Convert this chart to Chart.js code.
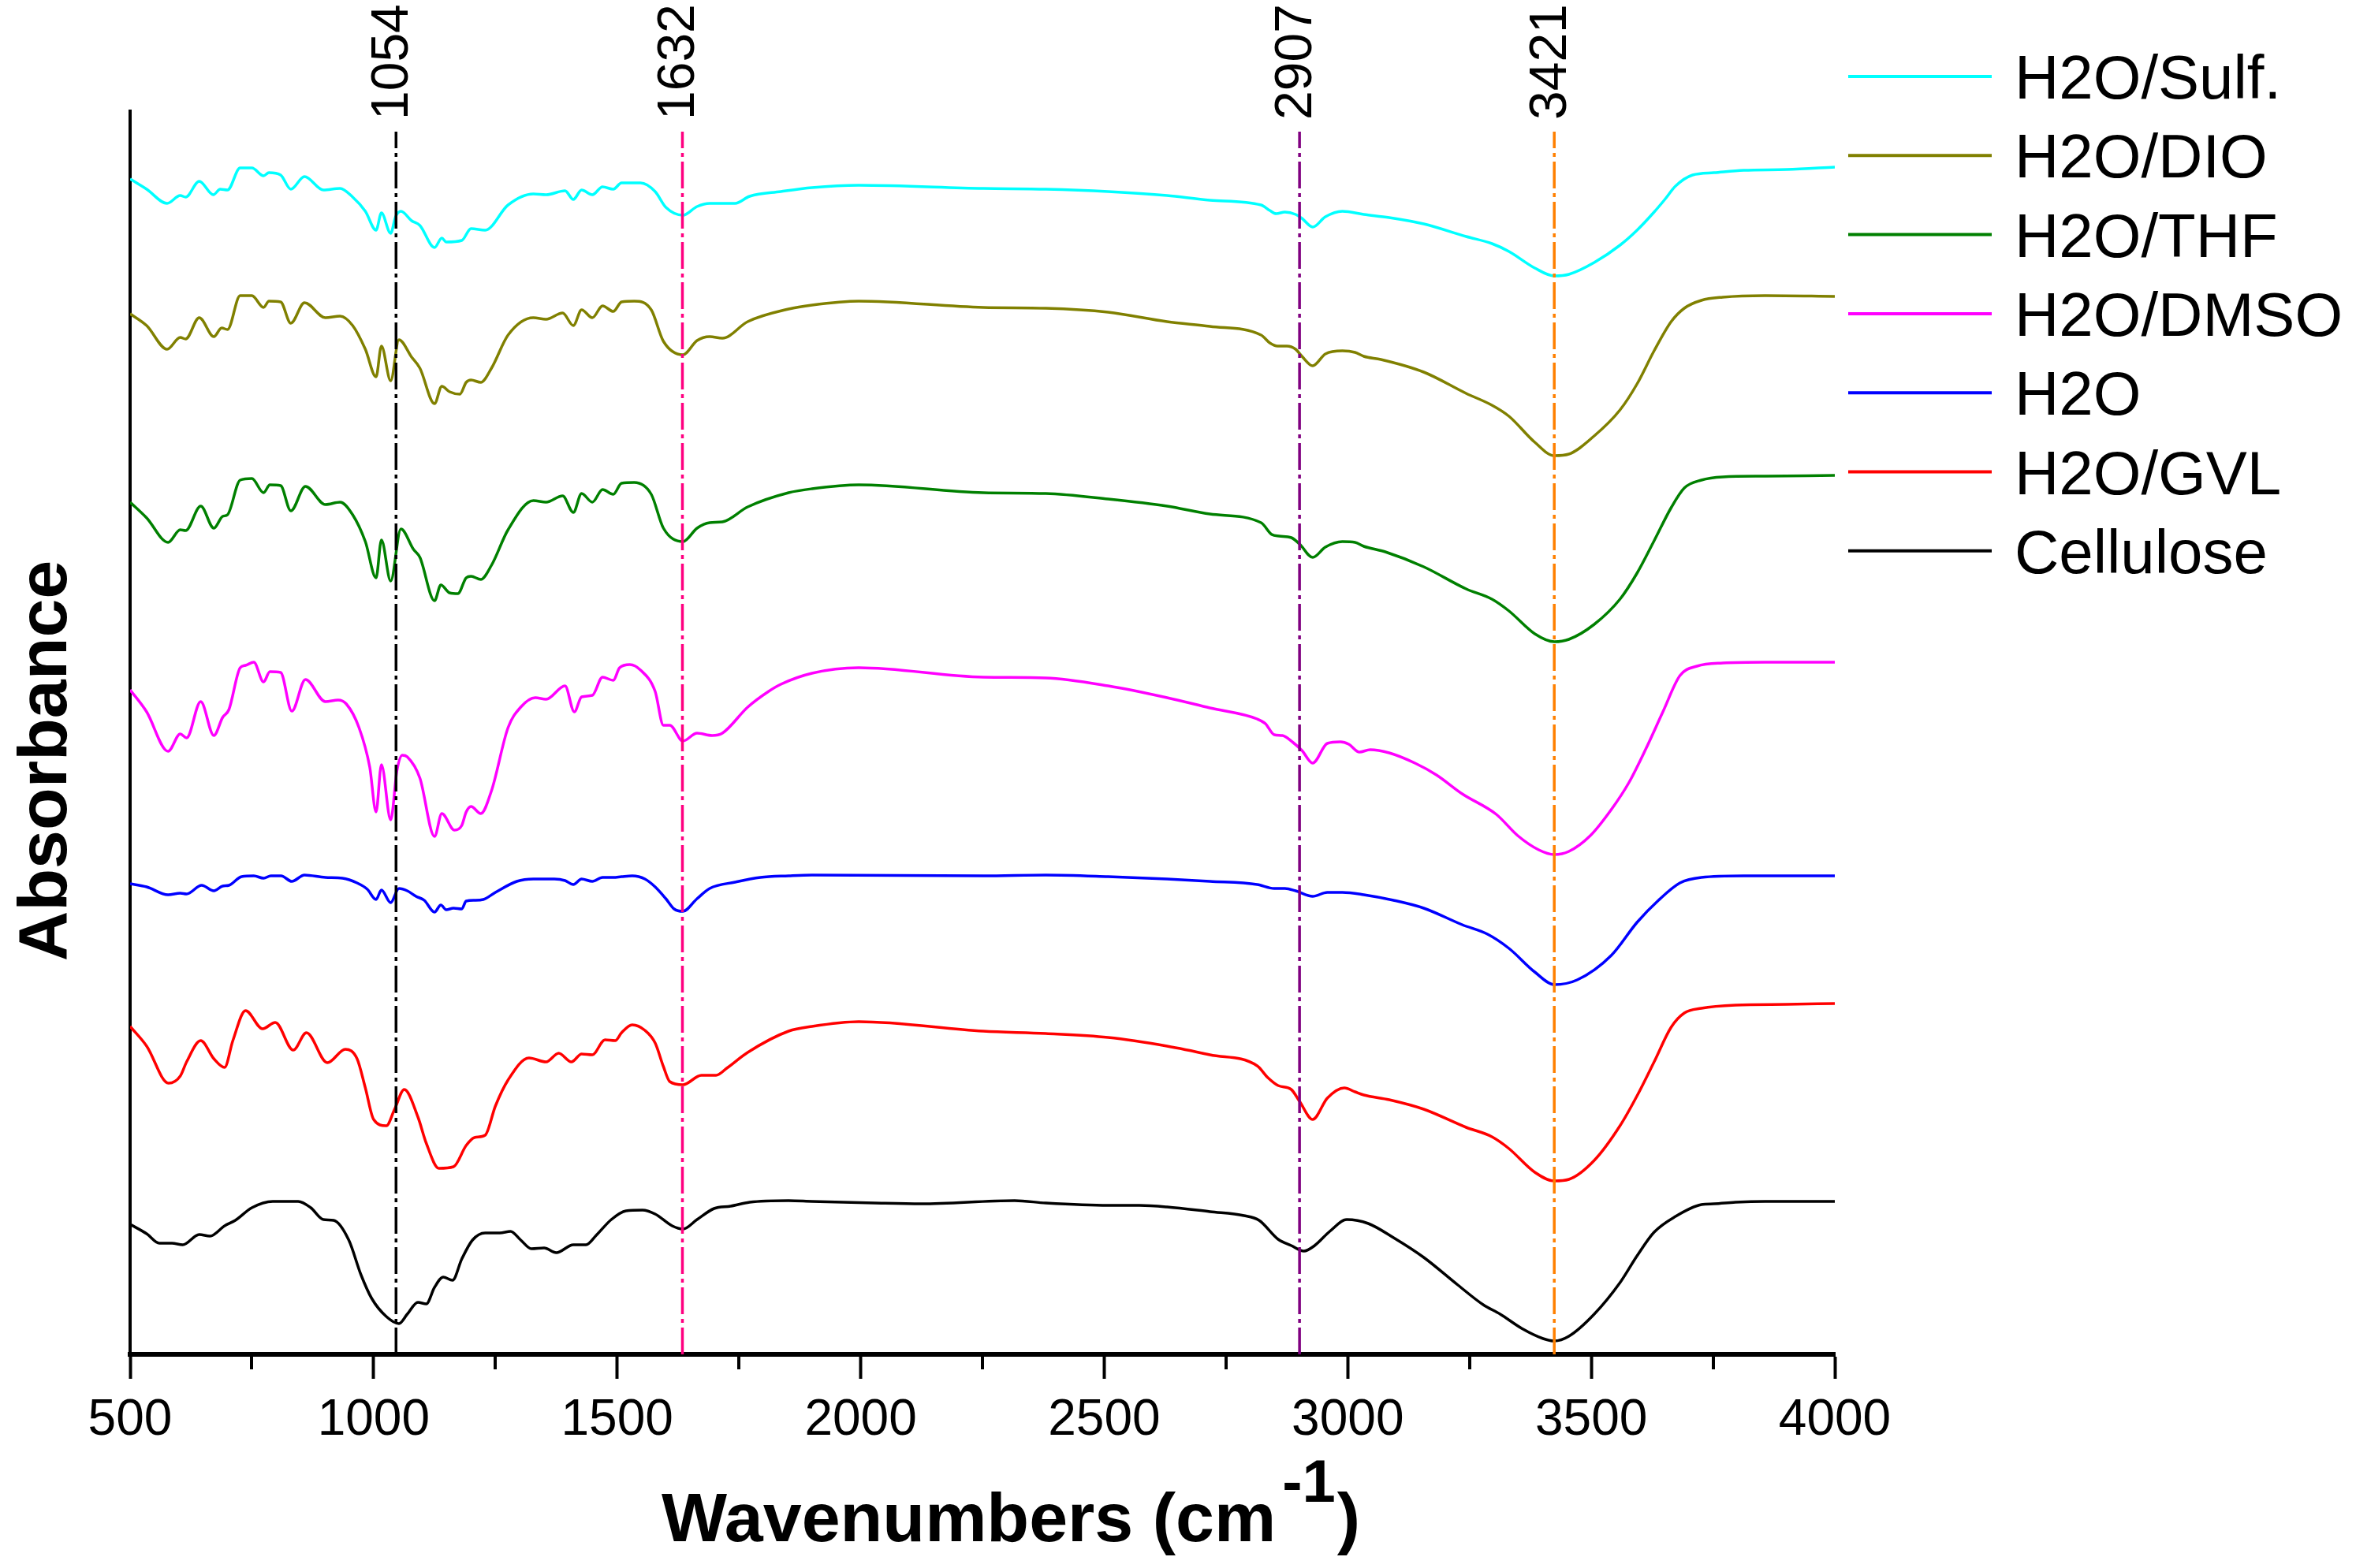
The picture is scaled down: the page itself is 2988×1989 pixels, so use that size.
<!DOCTYPE html>
<html><head><meta charset="utf-8">
<script src="https://cdn.jsdelivr.net/npm/chart.js@4.4.0/dist/chart.umd.min.js"></script>
<style>html,body{margin:0;padding:0;background:#fff;overflow:hidden}canvas{display:block}</style>
</head><body>
<canvas id="c" width="2988" height="1989"></canvas>
<script>
const seriesNames = ['H2O/Sulf.', 'H2O/DIO', 'H2O/THF', 'H2O/DMSO', 'H2O', 'H2O/GVL', 'Cellulose'];
const seriesColors = ['#00FFFF', '#808000', '#008000', '#FF00FF', '#0000FF', '#FF0000', '#000000'];

const wnSulf = [500,534,576,603,614,642,671,685,700,726,750,774,785,809,830,858,897,931,957,983,1005,1016,1035,1045,1056,1078,1095,1125,1140,1149,1181,1200,1229,1276,1328,1354,1393,1410,1427,1449,1470,1492,1509,1548,1578,1600,1635,1664,1690,1742,1772,1836,1900,1996,2252,2380,2508,2629,2717,2822,2840,2853,2871,2893,2906,2928,2954,2989,3033,3085,3156,3243,3296,3331,3384,3424,3454,3506,3559,3594,3629,3651,3673,3708,3752,3813,3901,4000];
const absSulf = [1488,1475,1457,1467,1465,1485,1468,1475,1474,1502,1502,1492,1496,1493,1475,1491,1474,1476,1465,1447,1423,1445,1419,1440,1447,1435,1429,1401,1413,1408,1410,1425,1423,1455,1469,1468,1473,1462,1474,1468,1478,1475,1483,1483,1472,1452,1442,1453,1457,1457,1466,1472,1477,1480,1476,1475,1472,1467,1461,1455,1448,1444,1446,1443,1438,1427,1440,1447,1443,1439,1431,1415,1406,1396,1375,1365,1367,1382,1404,1423,1446,1462,1479,1493,1496,1499,1500,1503];

const wnDIO = [500,534,576,603,614,642,672,688,700,726,750,774,785,809,830,858,901,931,957,983,1005,1016,1035,1052,1078,1095,1125,1140,1156,1177,1190,1200,1220,1242,1276,1328,1354,1388,1410,1427,1449,1470,1492,1509,1535,1570,1595,1635,1664,1690,1716,1768,1852,1900,1996,2252,2380,2508,2629,2717,2822,2840,2856,2875,2893,2906,2928,2954,2989,3015,3033,3068,3156,3243,3296,3331,3384,3424,3454,3506,3559,3594,3629,3664,3691,3726,3770,3857,4000];
const absDIO = [1317,1302,1272,1287,1285,1312,1288,1299,1297,1340,1340,1325,1333,1332,1305,1331,1312,1314,1302,1272,1237,1276,1232,1284,1262,1248,1203,1225,1218,1215,1230,1233,1230,1248,1290,1312,1310,1318,1302,1322,1312,1327,1320,1332,1333,1322,1282,1265,1283,1288,1286,1307,1323,1328,1333,1325,1324,1319,1307,1301,1290,1280,1276,1276,1272,1263,1251,1266,1270,1268,1263,1259,1243,1216,1201,1187,1154,1137,1139,1162,1195,1228,1270,1307,1324,1334,1338,1340,1339];

const wnTHF = [500,534,578,603,614,645,672,690,700,726,750,774,787,809,830,860,901,931,957,983,1005,1016,1035,1056,1082,1095,1125,1138,1156,1173,1190,1200,1220,1242,1276,1328,1354,1388,1410,1427,1449,1470,1492,1509,1535,1570,1595,1635,1664,1690,1716,1768,1852,1900,1996,2252,2380,2508,2629,2717,2822,2844,2859,2884,2901,2928,2954,2989,3015,3033,3077,3156,3243,3296,3331,3384,3424,3454,3506,3559,3594,3629,3664,3691,3726,3770,3857,4000];
const absTHF = [1078,1058,1027,1043,1042,1073,1045,1060,1062,1106,1108,1090,1100,1099,1067,1098,1075,1078,1062,1028,982,1030,978,1044,1018,1008,953,973,963,962,982,984,980,998,1043,1080,1078,1086,1065,1089,1078,1094,1088,1102,1103,1088,1045,1028,1045,1052,1053,1072,1090,1095,1100,1090,1089,1082,1073,1063,1052,1037,1035,1033,1025,1008,1021,1028,1027,1022,1015,996,968,955,940,911,901,904,923,955,988,1029,1071,1096,1106,1110,1111,1112];

const wnDMSO = [500,534,578,603,616,645,672,690,703,726,737,754,774,787,809,832,860,901,927,944,970,992,1005,1016,1035,1048,1059,1069,1095,1125,1140,1166,1181,1190,1200,1220,1242,1276,1302,1332,1354,1393,1412,1427,1449,1470,1492,1505,1526,1548,1578,1595,1608,1635,1664,1695,1716,1768,1811,1836,1900,1996,2252,2380,2508,2629,2717,2814,2831,2849,2866,2888,2906,2928,2958,2985,3002,3024,3046,3085,3138,3182,3235,3305,3349,3392,3424,3454,3498,3541,3577,3612,3647,3682,3717,3770,3857,4000];
const absDMSO = [840,812,762,784,779,825,782,805,815,868,871,875,850,863,862,813,853,825,827,822,792,742,685,745,675,738,757,755,728,654,683,662,668,685,692,683,712,792,818,830,828,845,812,831,833,856,852,868,872,865,838,795,795,775,785,782,785,818,838,847,861,868,856,855,845,830,817,803,797,783,782,773,763,747,772,774,771,761,764,760,747,732,708,682,655,637,631,635,655,688,722,765,812,858,870,874,875,875];

const wnH2O = [500,534,578,603,616,647,672,690,703,729,754,774,789,810,832,858,901,936,966,987,1005,1016,1035,1052,1069,1087,1104,1125,1138,1149,1164,1181,1190,1207,1225,1250,1294,1328,1371,1393,1410,1427,1449,1470,1492,1509,1531,1557,1578,1600,1617,1635,1664,1690,1742,1794,1852,1900,2252,2380,2508,2629,2717,2814,2849,2871,2893,2928,2958,2989,3033,3094,3156,3235,3287,3331,3384,3424,3471,3541,3594,3638,3682,3726,3813,4000];
const absH2O = [594,590,580,582,581,592,585,591,592,603,604,601,604,604,597,605,602,601,595,587,574,586,570,588,585,578,573,558,567,561,563,562,572,573,574,583,597,600,600,598,593,600,597,602,602,603,604,600,590,575,562,559,575,588,596,602,604,605,604,605,603,600,597,593,588,588,585,578,583,583,580,573,563,542,530,512,482,466,472,503,545,573,595,602,604,604];

const wnGVL = [500,534,579,603,616,645,672,694,711,737,772,798,835,862,905,942,966,983,1000,1026,1043,1063,1091,1108,1134,1164,1190,1207,1229,1250,1276,1319,1354,1380,1406,1427,1449,1475,1496,1509,1531,1557,1578,1595,1608,1635,1673,1703,1725,1768,1852,1900,1996,2252,2380,2508,2629,2717,2814,2836,2857,2884,2901,2928,2958,2993,3015,3033,3085,3156,3243,3296,3331,3384,3424,3454,3506,3559,3594,3629,3664,3691,3726,3796,3901,4000];
const absGVL = [413,388,341,350,368,395,372,361,395,433,410,418,383,405,367,384,372,335,295,287,308,333,298,265,233,235,262,272,275,312,345,373,368,379,368,378,377,396,395,405,415,408,392,362,343,339,351,351,360,380,407,413,419,407,404,399,388,377,363,348,338,333,318,295,322,335,330,326,320,308,285,273,258,228,217,219,243,287,325,368,412,430,436,440,441,442];

const wnCell = [500,534,560,586,608,642,664,694,716,750,793,845,871,897,918,949,974,996,1026,1052,1069,1091,1108,1125,1143,1162,1181,1203,1229,1259,1281,1302,1324,1350,1375,1410,1436,1457,1488,1518,1552,1578,1613,1635,1664,1699,1733,1772,1852,1900,2028,2124,2316,2380,2508,2572,2629,2717,2787,2818,2857,2884,2910,2932,2963,2998,3042,3094,3156,3226,3278,3313,3357,3401,3424,3454,3506,3559,3594,3629,3673,3726,3752,3796,3857,4000];
const absCell = [162,150,138,138,136,149,147,160,167,183,191,191,183,168,167,142,98,68,45,36,48,63,61,82,95,91,118,142,151,151,153,142,131,132,126,136,136,148,168,179,180,175,160,156,168,182,185,190,192,191,189,188,192,189,186,186,184,178,173,167,143,135,128,135,153,168,163,145,120,85,60,48,30,17,14,20,48,88,122,152,172,187,188,190,191,191];

const seriesX = [wnSulf, wnDIO, wnTHF, wnDMSO, wnH2O, wnGVL, wnCell];
const seriesY = [absSulf, absDIO, absTHF, absDMSO, absH2O, absGVL, absCell];

const peakPositions = [1046, 1634, 2901, 3424];
const peakLabels = ['1054', '1632', '2907', '3421'];
const peakColors = ['#000000', '#FF0080', '#800080', '#FF8000'];
const peakTop = 1548;

const xMajorTicks = [500, 1000, 1500, 2000, 2500, 3000, 3500, 4000];
const xMinorTicks = [750, 1250, 1750, 2250, 2750, 3250, 3750];

const FONT = '"Liberation Sans", Arial, Helvetica, sans-serif';

const datasets = [];
peakPositions.forEach((p, i) => {
  datasets.push({
    label: 'peak' + peakLabels[i],
    data: [{x: p, y: -3}, {x: p, y: peakTop}],
    borderColor: peakColors[i],
    borderWidth: 3.5,
    borderDash: [34, 6, 5, 6],
    pointRadius: 0,
    tension: 0,
    order: 0
  });
});
seriesNames.forEach((name, i) => {
  datasets.push({
    label: name,
    data: seriesX[i].map((x, j) => ({x: x, y: seriesY[i][j]})),
    borderColor: seriesColors[i],
    borderWidth: 3.5,
    pointRadius: 0,
    cubicInterpolationMode: 'monotone',
    fill: false,
    order: 1
  });
});

const decor = {
  id: 'decor',
  afterDraw(chart) {
    const ctx = chart.ctx, xs = chart.scales.x, area = chart.chartArea;
    ctx.save();
    // minor ticks
    ctx.strokeStyle = '#000';
    ctx.lineWidth = 4;
    xMinorTicks.forEach(v => {
      const px = Math.round(xs.getPixelForValue(v));
      ctx.beginPath();
      ctx.moveTo(px, area.bottom);
      ctx.lineTo(px, area.bottom + 19);
      ctx.stroke();
    });
    ctx.fillStyle = '#000';
    // peak labels
    ctx.font = '66px ' + FONT;
    ctx.textAlign = 'left';
    ctx.textBaseline = 'alphabetic';
    peakPositions.forEach((v, i) => {
      const px = xs.getPixelForValue(v);
      ctx.save();
      ctx.translate(px + 15, 152);
      ctx.rotate(-Math.PI / 2);
      ctx.fillText(peakLabels[i], 0, 0);
      ctx.restore();
    });
    // y title
    ctx.save();
    ctx.translate(84, 965);
    ctx.rotate(-Math.PI / 2);
    ctx.font = 'bold 88px ' + FONT;
    ctx.textAlign = 'center';
    ctx.fillText('Absorbance', 0, 0);
    ctx.restore();
    // x title
    ctx.font = 'bold 88px ' + FONT;
    ctx.textAlign = 'left';
    let x = 839;
    const main = 'Wavenumbers (cm';
    ctx.fillText(main, x, 1955);
    x += ctx.measureText(main).width + 8;
    ctx.font = 'bold 76px ' + FONT;
    ctx.fillText('-1', x, 1905);
    x += ctx.measureText('-1').width + 2;
    ctx.font = 'bold 88px ' + FONT;
    ctx.fillText(')', x, 1955);
    // legend
    ctx.font = '78px ' + FONT;
    seriesNames.forEach((name, i) => {
      const cy = 97 + i * 100.3;
      ctx.strokeStyle = seriesColors[i];
      ctx.lineWidth = 4;
      ctx.beginPath();
      ctx.moveTo(2344, cy);
      ctx.lineTo(2526, cy);
      ctx.stroke();
      ctx.fillStyle = '#000';
      ctx.fillText(name, 2555, cy + 28);
    });
    ctx.restore();
  }
};

new Chart(document.getElementById('c'), {
  type: 'line',
  data: { datasets: datasets },
  options: {
    responsive: false,
    devicePixelRatio: 1,
    animation: false,
    layout: { padding: { left: 165, top: 141, right: 661, bottom: 0 } },
    plugins: { legend: { display: false }, tooltip: { enabled: false } },
    scales: {
      x: {
        type: 'linear', min: 500, max: 4000,
        afterBuildTicks: s => { s.ticks = xMajorTicks.map(v => ({ value: v })); },
        afterFit: s => { s.height = 1989 - 1718; },
        grid: { display: true, drawOnChartArea: false, drawTicks: true, tickLength: 31, tickWidth: 4, tickColor: '#000' },
        border: { display: true, color: '#000', width: 6 },
        ticks: { font: { family: FONT, size: 64 }, color: '#000', padding: 15, maxRotation: 0, autoSkip: false, callback: v => String(v) }
      },
      y: {
        min: -3, max: 1574,
        afterFit: s => { s.width = 0; },
        ticks: { display: false },
        grid: { display: false, drawTicks: false },
        border: { display: true, color: '#000', width: 4 }
      }
    }
  },
  plugins: [decor]
});
</script>
</body></html>
